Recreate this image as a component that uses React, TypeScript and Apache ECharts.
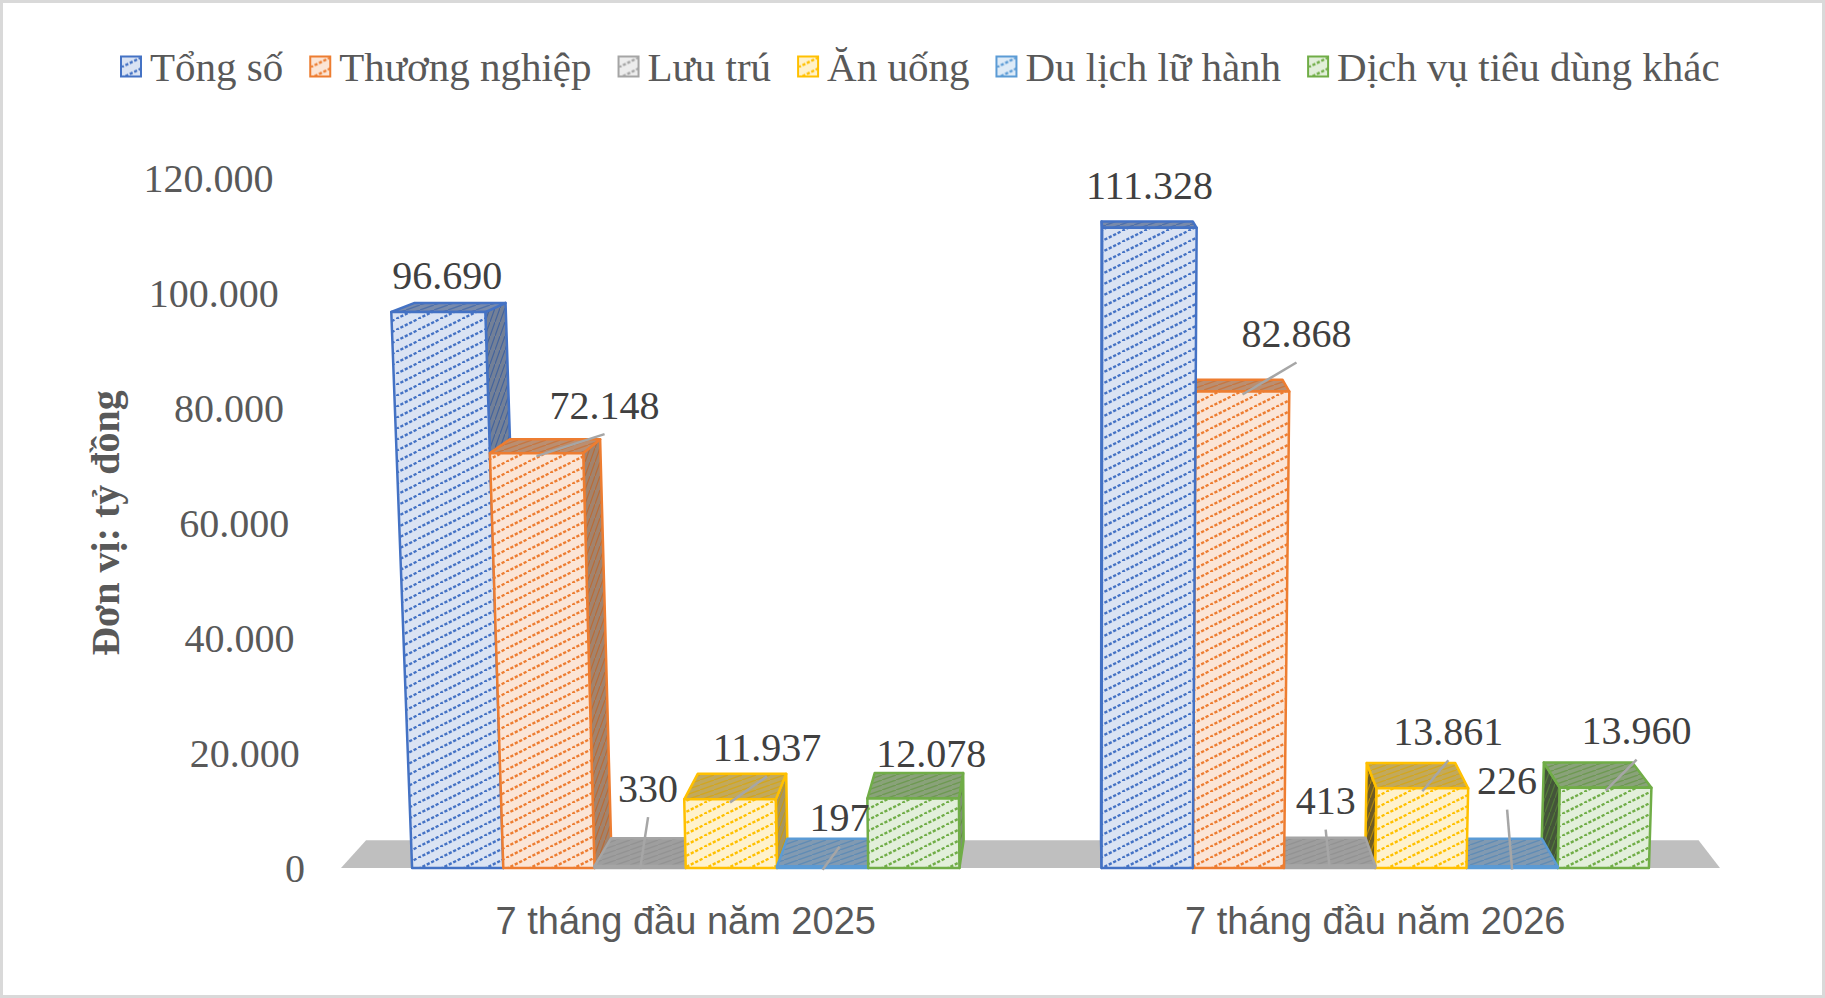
import React, { useEffect, useRef } from 'react';
import * as echarts from 'echarts';

// ---------------- data ----------------
const categories = ['7 tháng đầu năm 2025', '7 tháng đầu năm 2026'];
const seriesNames = ['Tổng số', 'Thương nghiệp', 'Lưu trú', 'Ăn uống', 'Du lịch lữ hành', 'Dịch vụ tiêu dùng khác'];
const tongSo = [96690, 111328];
const thuongNghiep = [72148, 82868];
const luuTru = [330, 413];
const anUong = [11937, 13861];
const duLichLuHanh = [197, 226];
const dichVuKhac = [12078, 13960];
const seriesValues = [tongSo, thuongNghiep, luuTru, anUong, duLichLuHanh, dichVuKhac];
const yTicks = [0, 20000, 40000, 60000, 80000, 100000, 120000];
const yAxisTitle = 'Đơn vị: tỷ đồng';

// ---------------- style / layout ----------------
const seriesColors = ['#4472C4', '#ED7D31', '#A5A5A5', '#FFC000', '#5B9BD5', '#70AD47'];
// data label offsets [dx, dy] from the top-front centre of each bar (per series, per category)
const labelOffsets = [
  [[9, -37], [0, -42]],
  [[68, -48], [54, -58]],
  [[8, -78], [-4, -65]],
  [[37, -52], [26, -57]],
  [[17, -49], [-5, -86]],
  [[18, -45], [31, -57]],
];
const VP_X = 1085;
const VP_Y = 41;
const DEPTH_S = 0.9663;
const LEAN = 5.56e-5;
const BAR_FRAC = 0.1323;
const SERIF = "'Liberation Serif', 'Times New Roman', serif";
const SANS = "'Liberation Sans', Arial, sans-serif";

function fmt(v: number): string {
  return String(Math.round(v)).replace(/\B(?=(\d{3})+(?!\d))/g, '.');
}
function hexToRgb(h: string) {
  const n = parseInt(h.slice(1), 16);
  return [(n >> 16) & 255, (n >> 8) & 255, n & 255];
}
function mix(a: string, b: string, t: number): string {
  const A = hexToRgb(a);
  const B = hexToRgb(b);
  return '#' + A.map((v, i) => Math.round(v + (B[i] - v) * t).toString(16).padStart(2, '0')).join('');
}
function stripePattern(bg: string, fg: string, w: number, h: number, sw: number, dash?: string) {
  const svg =
    `<svg xmlns='http://www.w3.org/2000/svg' width='${w}' height='${h}'>` +
    `<rect width='${w}' height='${h}' fill='${bg}'/>` +
    `<g stroke='${fg}' stroke-width='${sw}' fill='none'${dash ? ` stroke-dasharray='${dash}'` : ''}>` +
    `<line x1='0' y1='${h}' x2='${w}' y2='0'/>` +
    `<line x1='${-w}' y1='${2 * h}' x2='0' y2='${h}'/>` +
    `<line x1='${w}' y1='0' x2='${2 * w}' y2='${-h}'/>` +
    `</g></svg>`;
  return {
    image: 'data:image/svg+xml;charset=utf-8,' + encodeURIComponent(svg),
    repeat: 'repeat',
    imageWidth: w,
    imageHeight: h,
  };
}
const frontPatterns = seriesColors.map((c) => stripePattern(mix(c, '#ffffff', 0.8), c, 22, 11, 2.4, '3.2 1.72'));
const topPatterns = seriesColors.map((c) => stripePattern(mix(c, '#9a9a9a', 0.6), mix(c, '#6a6a6a', 0.3), 14, 5, 1.4));
const rightSidePatterns = seriesColors.map((c) => stripePattern(mix(c, '#858585', 0.72), mix(c, '#404040', 0.3), 5, 14, 1.2));
const leftSidePatterns = seriesColors.map((c) => stripePattern(mix(c, '#333333', 0.72), mix(c, '#1a1a1a', 0.35), 5, 14, 1.2));

function makeRenderItem(si: number) {
  return (params: any, api: any) => {
    const cat = api.value(0);
    const val = api.value(1);
    const top = api.coord([cat, val]);
    const base = api.coord([cat, 0]);
    const band = api.size([1, 0])[0];
    const bw = band * BAR_FRAC;
    const x0 = base[0] - bw * 3 + si * bw;
    const x1 = x0 + bw;
    const yb = base[1];
    let yt = top[1];
    if (yb - yt < 1.5) yt = yb - 1.5;
    const lean = (x: number, y: number) => [VP_X + (x - VP_X) * (1 + (yb - y) * LEAN), y];
    const back = (p: number[]) => [VP_X + (p[0] - VP_X) * DEPTH_S, VP_Y + (p[1] - VP_Y) * DEPTH_S];
    const A = lean(x0, yb);
    const B = lean(x1, yb);
    const C = lean(x1, yt);
    const D = lean(x0, yt);
    const col = seriesColors[si];
    const z = 1000 - Math.abs((x0 + x1) / 2 - VP_X) / 10;
    const edge = { stroke: col, lineWidth: 2.5, lineJoin: 'round' };
    const children: any[] = [];
    if (x1 < VP_X) {
      children.push({ type: 'polygon', shape: { points: [B, C, back(C), back(B)] }, style: { fill: rightSidePatterns[si], ...edge }, z2: z });
    } else if (x0 > VP_X) {
      children.push({ type: 'polygon', shape: { points: [A, D, back(D), back(A)] }, style: { fill: leftSidePatterns[si], ...edge }, z2: z });
    }
    children.push({ type: 'polygon', shape: { points: [D, C, back(C), back(D)] }, style: { fill: topPatterns[si], ...edge }, z2: z + 0.1 });
    children.push({ type: 'polygon', shape: { points: [A, B, C, D] }, style: { fill: frontPatterns[si], ...edge }, z2: z + 0.2 });

    const tc = lean((x0 + x1) / 2, top[1]);
    const off = labelOffsets[si][cat];
    const lx = tc[0] + off[0];
    const ly = top[1] + off[1];
    if (Math.hypot(off[0], off[1]) > 50) {
      children.push({
        type: 'line',
        shape: { x1: tc[0], y1: top[1] + 3, x2: lx, y2: ly + 29 },
        style: { stroke: '#a6a6a6', lineWidth: 2.5 },
        z2: 5000,
      });
    }
    children.push({
      type: 'text',
      style: {
        text: fmt(val),
        x: lx,
        y: ly,
        align: 'center',
        verticalAlign: 'middle',
        fontSize: 40,
        fontFamily: SERIF,
        fill: '#404040',
      },
      z2: 5001,
    });
    return { type: 'group', children };
  };
}

function floorRenderItem(params: any, api: any) {
  const cs = params.coordSys;
  const yb = api.coord([0, 0])[1];
  const back = (p: number[]) => [VP_X + (p[0] - VP_X) * DEPTH_S, VP_Y + (p[1] - VP_Y) * DEPTH_S];
  const fl = [cs.x, yb];
  const fr = [cs.x + cs.width, yb];
  return {
    type: 'polygon',
    shape: { points: [fl, fr, back(fr), back(fl)] },
    style: { fill: '#bfbfbf' },
    z2: -1000,
  };
}

export default function App() {
  const ref = useRef<HTMLDivElement>(null);
  useEffect(() => {
    document.body.style.margin = '0';
    if (!ref.current) return;
    const chart = echarts.init(ref.current, null, { renderer: 'svg' });
    const rich: Record<string, any> = {};
    yTicks.forEach((t, i) => {
      rich['r' + i] = {
        padding: [0, (31.5 * t) / 120000, 0, 0],
        fontSize: 40,
        fontFamily: SERIF,
        color: '#595959',
      };
    });
    const option: any = {
      animation: false,
      backgroundColor: '#ffffff',
      textStyle: { fontFamily: SERIF },
      graphic: [
        {
          type: 'rect',
          shape: { x: 1.5, y: 1.5, width: 1822, height: 995 },
          style: { fill: 'none', stroke: '#d9d9d9', lineWidth: 3 },
          silent: true,
        },
      ],
      legend: {
        left: 120,
        top: 46,
        padding: 0,
        itemWidth: 20,
        itemHeight: 20,
        itemGap: 26,
        icon: 'rect',
        textStyle: { fontSize: 41, fontFamily: SERIF, color: '#595959', padding: [0, 0, 0, 4] },
        data: seriesNames.map((n, i) => ({
          name: n,
          itemStyle: { color: frontPatterns[i], borderColor: seriesColors[i], borderWidth: 2 },
        })),
      },
      grid: { left: 341, right: 105, top: 178, bottom: 130, containLabel: false, outerBoundsMode: 'none' },
      xAxis: {
        type: 'category',
        data: categories,
        axisLine: { show: false },
        axisTick: { show: false },
        axisLabel: { margin: 34, fontSize: 38, fontFamily: SANS, color: '#595959' },
      },
      yAxis: {
        type: 'value',
        min: 0,
        max: 120000,
        interval: 20000,
        axisLine: { show: false },
        axisTick: { show: false },
        splitLine: { show: false },
        axisLabel: {
          margin: 36,
          formatter: (v: number, idx: number) => `{r${idx}|${fmt(v)}}`,
          rich,
        },
        name: yAxisTitle,
        nameLocation: 'middle',
        nameGap: 216,
        nameTextStyle: { fontSize: 40, fontWeight: 'bold', fontFamily: SERIF, color: '#595959' },
      },
      series: [
        {
          type: 'custom',
          name: 'floor',
          coordinateSystem: 'cartesian2d',
          data: [[0, 0]],
          encode: { x: 0, y: 1 },
          renderItem: floorRenderItem,
          silent: true,
        },
        ...seriesNames.map((n, si) => ({
          type: 'custom',
          name: n,
          coordinateSystem: 'cartesian2d',
          data: seriesValues[si].map((v, i) => [i, v]),
          encode: { x: 0, y: 1 },
          renderItem: makeRenderItem(si),
          itemStyle: { color: frontPatterns[si], borderColor: seriesColors[si], borderWidth: 2 },
          silent: true,
        })),
      ],
    };
    chart.setOption(option);
    return () => chart.dispose();
  }, []);
  return <div ref={ref} style={{ width: 1825, height: 998 }} />;
}
